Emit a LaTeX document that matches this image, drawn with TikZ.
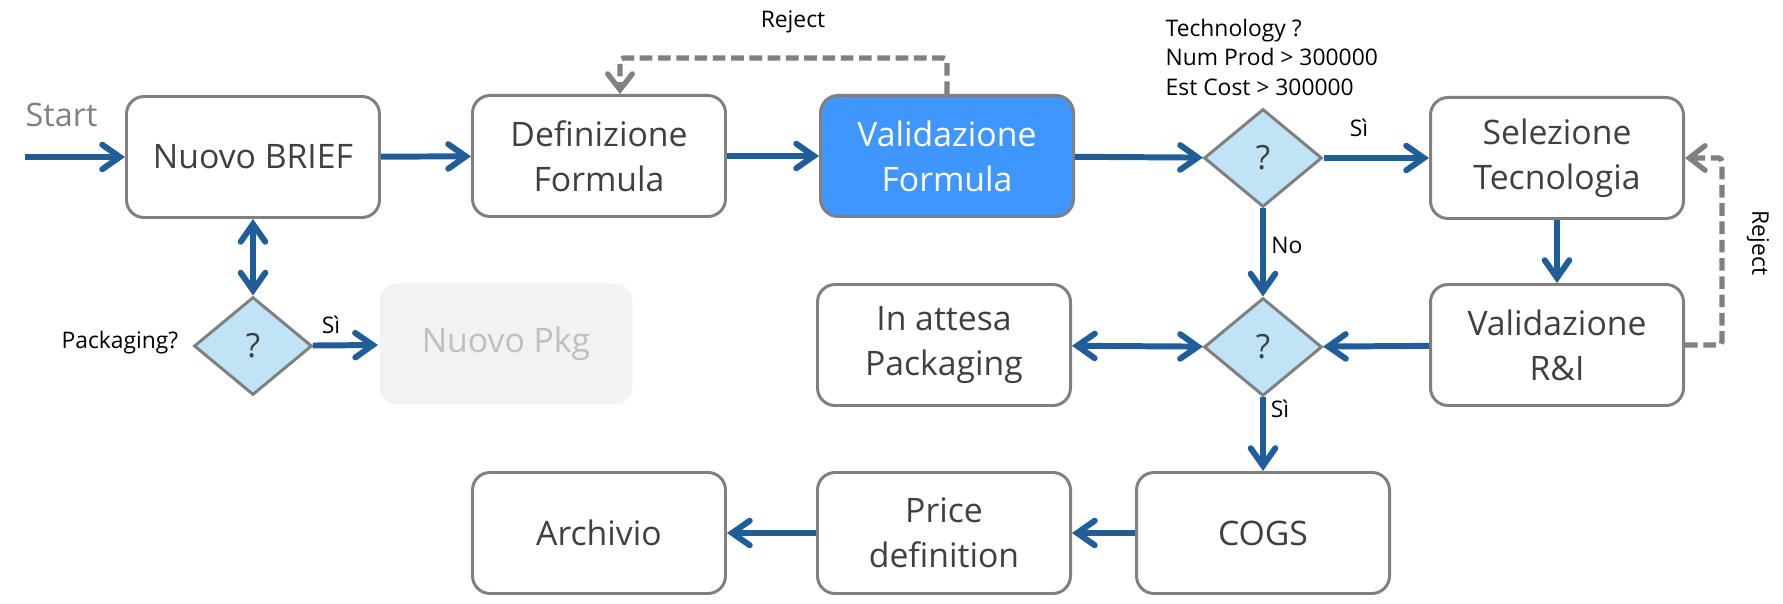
\documentclass[tikz,border=0pt]{standalone}
\usepackage{fontspec}
\setmainfont{Open Sans}
\usetikzlibrary{arrows.meta,shapes.geometric,positioning}
\definecolor{flowblue}{RGB}{31,94,153}
\definecolor{boxgray}{RGB}{128,128,128}
\definecolor{textgray}{RGB}{64,64,64}
\definecolor{valblue}{RGB}{64,150,255}
\definecolor{diamblue}{RGB}{192,228,245}
\definecolor{pkggray}{RGB}{242,242,242}
\definecolor{pkgtext}{RGB}{191,191,191}

\begin{document}
\begin{tikzpicture}[
    >={Straight Barb[length=5pt,width=7pt,line cap=round]},
    stepbox/.style={draw=boxgray, line width=0.85pt, rounded corners=5pt, fill=white,
      minimum width=2.53cm, minimum height=1.21cm, align=center, text=textgray,
      font=\fontsize{9.6}{12.8}\selectfont},
    question/.style={diamond, draw=boxgray, line width=0.85pt, fill=diamblue,
      minimum width=1.18cm, minimum height=0.98cm, inner sep=0pt, text=textgray,
      font=\fontsize{9.5}{12}\selectfont},
    flow/.style={draw=flowblue, line width=1.7pt, ->},
    flowboth/.style={draw=flowblue, line width=1.7pt, <->},
    reject/.style={draw=boxgray, line width=1.5pt, dash pattern=on 3.6pt off 1.6pt, rounded corners=1pt,
      -{Straight Barb[length=4.5pt,width=7pt,line cap=round]}},
    note/.style={font=\fontsize{6.5}{8.4}\selectfont, inner sep=0pt}
  ]
      \useasboundingbox (0,0) rectangle (17.83,-6.04);
      \node[stepbox] (brief) at (2.53,-1.57) {Nuovo BRIEF};
      \node[stepbox] (defform) at (5.99,-1.56) {Definizione\\Formula};
      \node[stepbox, fill=valblue, text=white] (valform) at (9.47,-1.56) {Validazione\\Formula};
      \node[question] (qtech) at (12.63,-1.58) {?};
      \node[stepbox] (seltech) at (15.57,-1.58) {Selezione\\Tecnologia};
      \node[stepbox] (valri) at (15.57,-3.45) {Validazione\\R\&I};
      \node[question] (qpack) at (12.63,-3.47) {?};
      \node[stepbox] (attesa) at (9.44,-3.45) {In attesa\\Packaging};
      \node[stepbox] (cogs) at (12.63,-5.33) {COGS};
      \node[stepbox] (price) at (9.44,-5.33) {Price\\definition};
      \node[stepbox] (archivio) at (5.99,-5.33) {Archivio};
      \node[question] (qpkg) at (2.53,-3.46) {?};
      \node[stepbox, draw=none, fill=pkggray, text=pkgtext] (nuovopkg) at (5.06,-3.44) {Nuovo Pkg};

      \node[anchor=base west, inner sep=0pt, text=boxgray, font=\fontsize{9.2}{11}\selectfont] (start) at (0.25,-1.27) {Start};
      \coordinate (startpt) at (0.25,-1.57);
      \draw[flow] (startpt) -- (brief);
      \draw[flow] (brief) -- (defform);
      \draw[flow] (defform) -- (valform);
      \draw[flow] (valform) -- (qtech);
      \draw[flow] (qtech) -- (seltech);
      \draw[flow] (seltech) -- (valri);
      \draw[flow] (qtech) -- (qpack);
      \draw[flow] (valri) -- (qpack);
      \draw[flowboth] (qpack) -- (attesa);
      \draw[flow] (qpack) -- (cogs);
      \draw[flow] (cogs) -- (price);
      \draw[flow] (price) -- (archivio);
      \draw[flowboth] (brief) -- (qpkg);
      \draw[flow] (qpkg) -- (nuovopkg);

      \coordinate (rejtop) at (6.20,-0.58);
      \draw[reject] (valform.north) |- (rejtop) -- (rejtop |- defform.north);
      \coordinate (rejright) at (17.22,-1.58);
      \draw[reject] (valri.east) -| (rejright) -- (rejright -| seltech.east);

      \node[note] (rejtoplbl) at (7.93,-0.22) {Reject};
      \node[note, rotate=-90] (rejrightlbl) at (17.58,-2.43) {Reject};
      \node[note, anchor=north west, align=left] (techlbl) at (11.65,-0.18) {Technology ?\\Num Prod > 300000\\Est Cost > 300000};
      \node[note] (silbla) at (13.59,-1.28) {Sì};
      \node[note] (nolbl) at (12.87,-2.45) {No};
      \node[note] (silblb) at (12.80,-4.09) {Sì};
      \node[note] (silblc) at (3.31,-3.25) {Sì};
      \node[note, anchor=east] (pkglbl) at (1.79,-3.43) {Packaging?};
\end{tikzpicture}
\end{document}
